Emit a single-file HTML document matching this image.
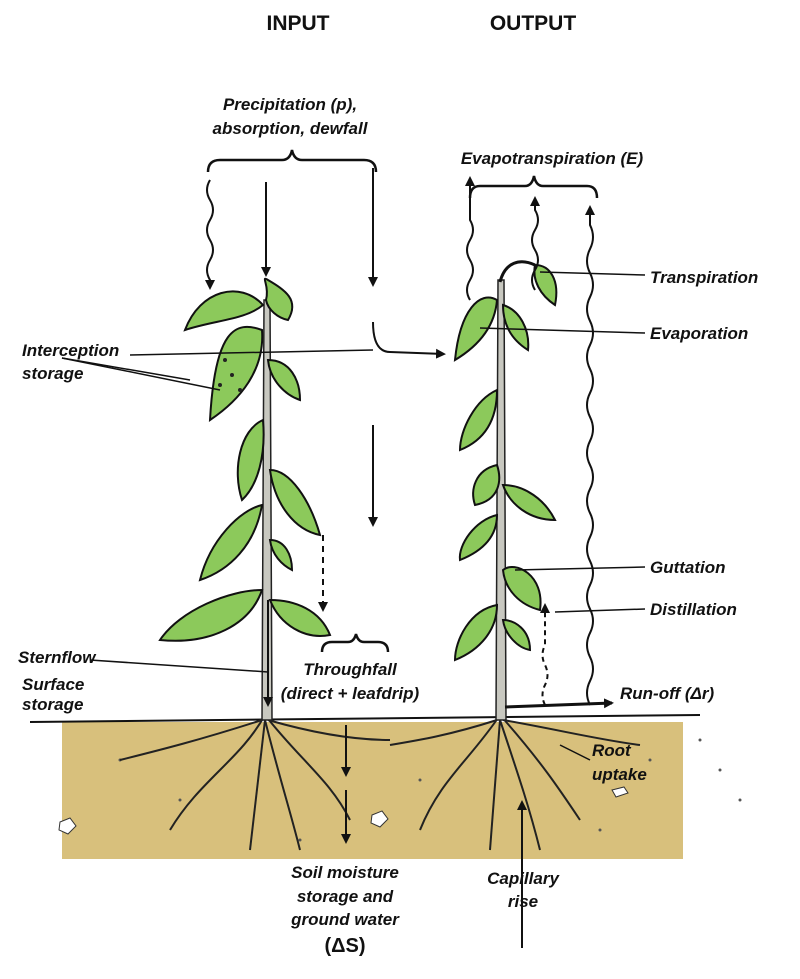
<!DOCTYPE html>
<html><head><meta charset="utf-8"><style>
html,body{margin:0;padding:0;background:#fff}
svg{display:block}
text{font-family:"Liberation Sans",sans-serif;font-weight:bold;font-style:italic;font-size:17px;fill:#111}
.h{font-style:normal;font-size:21px}
.lf{fill:#8cc95b;stroke:#111;stroke-width:2}
</style></head><body>
<svg width="800" height="979" viewBox="0 0 800 979" xmlns="http://www.w3.org/2000/svg">
<defs>
<marker id="a" markerWidth="10" markerHeight="10" refX="8" refY="5" orient="auto" markerUnits="userSpaceOnUse"><path d="M0,0 L10,5 L0,10 z" fill="#111"/></marker>
</defs>
<!-- soil -->
<rect x="62" y="722" width="621" height="137" fill="#d8c07c"/>
<line x1="30" y1="722" x2="700" y2="715" stroke="#111" stroke-width="2"/>
<g fill="#fff" stroke="#333"><path d="M60,822 l10,-4 6,8 -8,8 -9,-4z"/><path d="M372,815 l10,-4 6,8 -8,8 -9,-4z"/><path d="M612,790 l12,-3 4,6 -12,4z"/></g>
<g fill="#555"><circle cx="120" cy="760" r="1.5"/><circle cx="180" cy="800" r="1.5"/><circle cx="420" cy="780" r="1.5"/><circle cx="600" cy="830" r="1.5"/><circle cx="650" cy="760" r="1.5"/><circle cx="300" cy="840" r="1.5"/><circle cx="700" cy="740" r="1.5"/><circle cx="720" cy="770" r="1.5"/><circle cx="740" cy="800" r="1.5"/></g>
<!-- roots -->
<g stroke="#222" stroke-width="2" fill="none">
<path d="M265,715 C240,760 200,780 170,830"/><path d="M265,715 C300,760 330,780 350,820"/><path d="M262,720 C200,740 160,750 120,760"/><path d="M268,720 C320,735 360,740 390,740"/><path d="M265,720 L250,850"/><path d="M265,720 C280,780 290,810 300,850"/>
<path d="M500,715 C470,760 440,780 420,830"/><path d="M500,715 C540,760 560,790 580,820"/><path d="M497,720 C450,735 420,740 390,745"/><path d="M503,720 C560,730 600,740 640,745"/><path d="M500,720 L490,850"/><path d="M500,720 C520,780 530,810 540,850"/>
</g>
<!-- stems -->
<path d="M262,720 L264,300 L270,300 L272,720 Z" fill="#c8c8c0" stroke="#222" stroke-width="1.5"/>
<path d="M496,720 L498,280 L504,280 L506,720 Z" fill="#c8c8c0" stroke="#222" stroke-width="1.5"/>
<path d="M500,282 C505,262 520,258 535,265" stroke="#111" stroke-width="3" fill="none"/>
<!-- left leaves -->
<g class="lf">
<path d="M263,305 C240,280 200,290 185,330 C215,320 245,320 263,305Z"/>
<path d="M266,300 C270,285 260,275 268,280 C285,290 300,300 288,320 C278,318 268,310 266,300Z"/>
<path d="M262,330 C235,320 215,330 210,420 C240,400 265,370 262,330Z"/>
<path d="M268,360 C290,360 300,380 300,400 C285,395 270,380 268,360Z"/>
<path d="M263,420 C240,430 232,470 242,500 C258,485 266,455 263,420Z"/>
<path d="M270,470 C290,470 310,500 320,535 C295,530 275,505 270,470Z"/>
<path d="M262,505 C240,510 210,540 200,580 C230,570 255,545 262,505Z"/>
<path d="M270,540 C285,540 292,555 292,570 C282,565 272,555 270,540Z"/>
<path d="M262,590 C230,590 180,610 160,640 C210,645 250,625 262,590Z"/>
<path d="M270,600 C295,600 320,610 330,635 C305,640 280,625 270,600Z"/>
</g>
<g fill="#222"><circle cx="225" cy="360" r="2"/><circle cx="232" cy="375" r="2"/><circle cx="220" cy="385" r="2"/><circle cx="240" cy="390" r="2"/></g>
<!-- right leaves -->
<g class="lf">
<path d="M535,265 C550,265 560,280 555,305 C540,295 532,280 535,265Z"/>
<path d="M497,300 C480,290 460,310 455,360 C480,345 495,325 497,300Z"/>
<path d="M503,305 C520,310 530,330 528,350 C512,340 503,325 503,305Z"/>
<path d="M497,390 C475,400 460,430 460,450 C485,440 497,420 497,390Z"/>
<path d="M497,465 C475,470 470,490 475,505 C500,500 502,480 497,465Z"/>
<path d="M503,485 C525,485 545,500 555,520 C530,520 510,505 503,485Z"/>
<path d="M497,515 C475,520 458,545 460,560 C485,550 497,535 497,515Z"/>
<path d="M503,570 C515,560 545,575 540,610 C520,605 505,590 503,570Z"/>
<path d="M497,605 C470,610 455,640 455,660 C480,650 497,630 497,605Z"/>
<path d="M503,620 C515,620 530,630 530,650 C518,648 505,635 503,620Z"/>
</g>
<!-- headings -->
<text class="h" x="298" y="30" text-anchor="middle">INPUT</text>
<text class="h" x="533" y="30" text-anchor="middle">OUTPUT</text>
<text x="290" y="110" text-anchor="middle">Precipitation (p),</text>
<text x="290" y="134" text-anchor="middle">absorption, dewfall</text>
<text x="552" y="164" text-anchor="middle">Evapotranspiration (E)</text>
<!-- braces -->
<g stroke="#111" stroke-width="2.5" fill="none">
<path d="M208,172 Q208,160 220,160 L282,160 Q290,160 292,150 Q294,160 302,160 L364,160 Q376,160 376,172"/>
<path d="M470,198 Q470,186 480,186 L525,186 Q532,186 534,176 Q536,186 543,186 L587,186 Q597,186 597,198"/>
<path d="M322,652 Q322,642 332,642 L348,642 Q354,642 356,634 Q358,642 364,642 L378,642 Q388,642 388,652"/>
</g>
<!-- arrows -->
<g stroke="#111" stroke-width="2" fill="none" marker-end="url(#a)">
<path d="M210,180 q-6,10 0,20 q6,10 0,20 q-6,10 0,20 q6,10 0,20 q-6,10 0,20 l0,8"/>
<path d="M266,182 L266,275"/>
<path d="M373,168 L373,285"/>
<path d="M373,322 Q373,352 390,352 L444,354"/>
<path d="M373,425 L373,525"/>
<path d="M323,535 L323,610" stroke-dasharray="6,5"/>
<path d="M470,300 q-6,-10 0,-20 q6,-10 0,-20 q-6,-10 0,-20 q6,-10 0,-20 l0,-42"/>
<path d="M535,290 q-6,-10 0,-20 q6,-10 0,-20 q-6,-10 0,-20 q6,-10 0,-20 l0,-12"/>
<path d="M590,705 q-6,-12 0,-24 q6,-12 0,-24 q-6,-12 0,-24 q6,-12 0,-24 q-6,-12 0,-24 q6,-12 0,-24 q-6,-12 0,-24 q6,-12 0,-24 q-6,-12 0,-24 q6,-12 0,-24 q-6,-12 0,-24 q6,-12 0,-24 q-6,-12 0,-24 q6,-12 0,-24 q-6,-12 0,-24 q6,-12 0,-24 q-6,-12 0,-24 q6,-12 0,-24 q-6,-12 0,-24 q6,-12 0,-24 l0,-18"/>
<path d="M545,705 q-5,-10 0,-20 q5,-10 0,-20 q-5,-10 0,-20 l0,-40" stroke-dasharray="5,4"/>
<path d="M268,600 L268,705"/>
<path d="M346,725 L346,775"/>
<path d="M346,790 L346,842"/>
<path d="M522,948 L522,802"/>
<path d="M505,707 L612,703" stroke-width="3"/>
</g>
<!-- pointer lines -->
<g stroke="#111" stroke-width="1.5" fill="none">
<path d="M130,355 L373,350"/><path d="M62,358 L220,390"/><path d="M62,358 L190,380"/>
<path d="M90,660 L268,672"/>
<path d="M645,275 L540,272"/><path d="M645,333 L480,328"/>
<path d="M645,567 L515,570"/><path d="M645,609 L555,612"/>
<path d="M590,760 L560,745"/>
</g>
<!-- labels -->
<text x="650" y="283">Transpiration</text>
<text x="650" y="339">Evaporation</text>
<text x="650" y="573">Guttation</text>
<text x="650" y="615">Distillation</text>
<text x="620" y="699">Run-off (Δr)</text>
<text x="592" y="756">Root</text>
<text x="592" y="780">uptake</text>
<text x="22" y="356">Interception</text>
<text x="22" y="379">storage</text>
<text x="18" y="663">Sternflow</text>
<text x="22" y="690">Surface</text>
<text x="22" y="710">storage</text>
<text x="350" y="675" text-anchor="middle">Throughfall</text>
<text x="350" y="699" text-anchor="middle">(direct + leafdrip)</text>
<text x="345" y="878" text-anchor="middle">Soil moisture</text>
<text x="345" y="902" text-anchor="middle">storage and</text>
<text x="345" y="925" text-anchor="middle">ground water</text>
<text x="345" y="952" text-anchor="middle" style="font-style:normal;font-size:20px">(ΔS)</text>
<text x="523" y="884" text-anchor="middle">Capillary</text>
<text x="523" y="907" text-anchor="middle">rise</text>
</svg>
</body></html>
